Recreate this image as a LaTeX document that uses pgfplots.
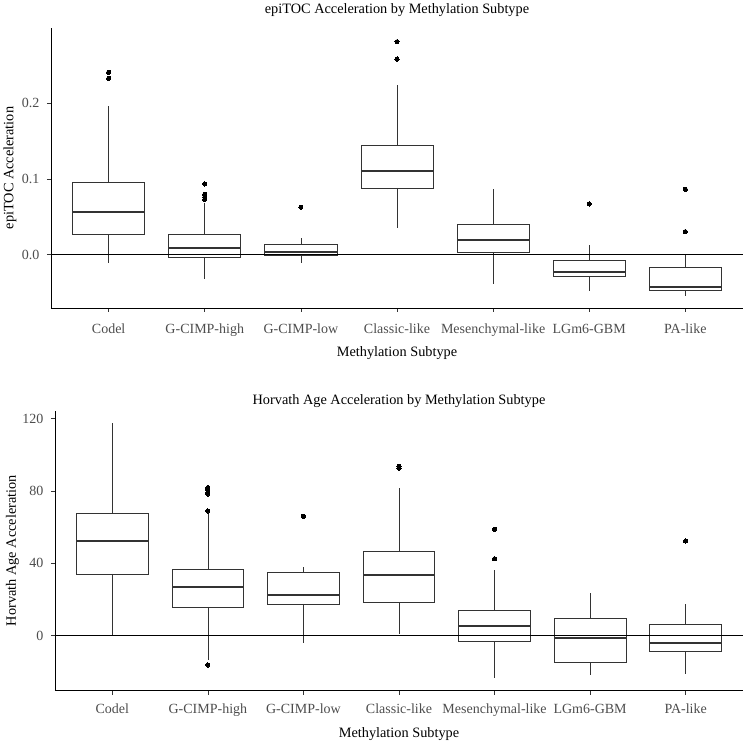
\documentclass[border=0pt]{standalone}
\usepackage{fontspec}
\setmainfont{Liberation Serif}
\usepackage{pgfplots}
\pgfplotsset{compat=1.18}
\usepgfplotslibrary{statistics}
\definecolor{g20}{HTML}{333333}
\definecolor{g30}{HTML}{4D4D4D}
\pgfplotsset{
  every axis title shift=0pt,
  myax/.style={
    scale only axis,
    xmin=0.4, xmax=7.6,
    axis x line*=bottom, axis y line*=left,
    axis line style={black, line width=0.6pt},
    tick align=outside, major tick length=4pt,
    tick style={g20, line width=0.6pt},
    xtick={1,2,3,4,5,6,7},
    xticklabels={Codel,G-CIMP-high,G-CIMP-low,Classic-like,Mesenchymal-like,LGm6-GBM,PA-like},
    ticklabel style={font=\fontsize{14}{16}\selectfont, text=g30},
    xticklabel style={text height=10pt, text depth=3pt},
    yticklabel style={xshift=-4pt},
    label style={font=\fontsize{14.3}{16}\selectfont},
    title style={font=\fontsize{14.3}{16}\selectfont},
    xlabel={Methylation Subtype},
    boxplot/draw direction=y,
    boxplot/box extend=0.75,
    boxplot/whisker extend=0,
    boxplot/every median/.style={line width=1.8pt},
    clip=false,
  },
  bx/.style={draw=g20, line width=0.7pt, mark=*, mark size=2.1pt, mark options={fill=black, draw=black, line width=0pt}, solid},
}
\begin{document}
\begin{tikzpicture}
\useasboundingbox (0,0) rectangle (745pt,741pt);
\begin{axis}[myax,
  at={(51pt,433pt)}, anchor=south west, width=692pt, height=280pt,
  ymin=-0.0705, ymax=0.2995,
  ytick={0,0.1,0.2}, yticklabels={0.0,0.1,0.2},
  xticklabel style={yshift=-7.5pt},
  ylabel={epiTOC Acceleration},
  ylabel style={at={(axis description cs:-0.0545,0.5)}, anchor=base},
  xlabel style={at={(axis description cs:0.5,-0.175)}, anchor=base},
  title={epiTOC Acceleration by Methylation Subtype},
  title style={at={(axis description cs:0.5,1.05)}, anchor=base},
]
\addplot[bx, boxplot prepared={draw position=1, lower whisker=-0.0114, lower quartile=0.0264, median=0.0564, upper quartile=0.095, upper whisker=0.197}] coordinates {(1,0.241) (1,0.233)};
\addplot[bx, boxplot prepared={draw position=2, lower whisker=-0.0317, lower quartile=-0.003, median=0.0085, upper quartile=0.0264, upper whisker=0.068}] coordinates {(2,0.0934) (2,0.0798) (2,0.0760) (2,0.0732)};
\addplot[bx, boxplot prepared={draw position=3, lower whisker=-0.0106, lower quartile=-0.0013, median=0.004, upper quartile=0.0141, upper whisker=0.022}] coordinates {(3,0.0626)};
\addplot[bx, boxplot prepared={draw position=4, lower whisker=0.0349, lower quartile=0.0881, median=0.111, upper quartile=0.144, upper whisker=0.2242}] coordinates {(4,0.2814) (4,0.2585)};
\addplot[bx, boxplot prepared={draw position=5, lower whisker=-0.0391, lower quartile=0.0032, median=0.0194, upper quartile=0.0396, upper whisker=0.0868}] coordinates {};
\addplot[bx, boxplot prepared={draw position=6, lower whisker=-0.048, lower quartile=-0.0286, median=-0.0229, upper quartile=-0.0079, upper whisker=0.0124}] coordinates {(6,0.067)};
\addplot[bx, boxplot prepared={draw position=7, lower whisker=-0.0542, lower quartile=-0.0476, median=-0.0427, upper quartile=-0.0167, upper whisker=0.0}] coordinates {(7,0.0864) (7,0.0304)};
\addplot[black, line width=0.7pt, no marks] coordinates {(0.4,0) (7.6,0)};
\end{axis}
\begin{axis}[myax,
  at={(55pt,50.3pt)}, anchor=south west, width=688pt, height=280pt,
  ymin=-30.4, ymax=124.3,
  ytick={0,40,80,120}, yticklabels={0,40,80,120},
  xticklabel style={yshift=-4.8pt},
  ylabel={Horvath Age Acceleration},
  ylabel style={at={(axis description cs:-0.0567,0.5)}, anchor=base},
  xlabel style={at={(axis description cs:0.5,-0.1654)}, anchor=base},
  title={Horvath Age Acceleration by Methylation Subtype},
  title style={at={(axis description cs:0.5,1.0204)}, anchor=base},
]
\addplot[bx, boxplot prepared={draw position=1, lower whisker=0.0, lower quartile=34.1, median=52.1, upper quartile=67.6, upper whisker=117.3}] coordinates {};
\addplot[bx, boxplot prepared={draw position=2, lower whisker=-13.4, lower quartile=15.9, median=27.1, upper quartile=36.5, upper whisker=67.6}] coordinates {(2,81.8) (2,80.6) (2,79.3) (2,78.3) (2,68.9) (2,-16.2)};
\addplot[bx, boxplot prepared={draw position=3, lower whisker=-4.2, lower quartile=17.5, median=22.5, upper quartile=35.0, upper whisker=38.0}] coordinates {(3,66.0)};
\addplot[bx, boxplot prepared={draw position=4, lower whisker=0.9, lower quartile=18.4, median=33.5, upper quartile=46.4, upper whisker=81.4}] coordinates {(4,93.5) (4,92.6)};
\addplot[bx, boxplot prepared={draw position=5, lower whisker=-23.2, lower quartile=-3.1, median=5.2, upper quartile=14.2, upper whisker=36.3}] coordinates {(5,58.8) (5,42.5)};
\addplot[bx, boxplot prepared={draw position=6, lower whisker=-21.9, lower quartile=-14.7, median=-1.1, upper quartile=9.6, upper whisker=23.8}] coordinates {};
\addplot[bx, boxplot prepared={draw position=7, lower whisker=-21.2, lower quartile=-8.5, median=-4.2, upper quartile=6.3, upper whisker=17.3}] coordinates {(7,52.3)};
\addplot[black, line width=0.7pt, no marks] coordinates {(0.4,0) (7.6,0)};
\end{axis}
\end{tikzpicture}
\end{document}
